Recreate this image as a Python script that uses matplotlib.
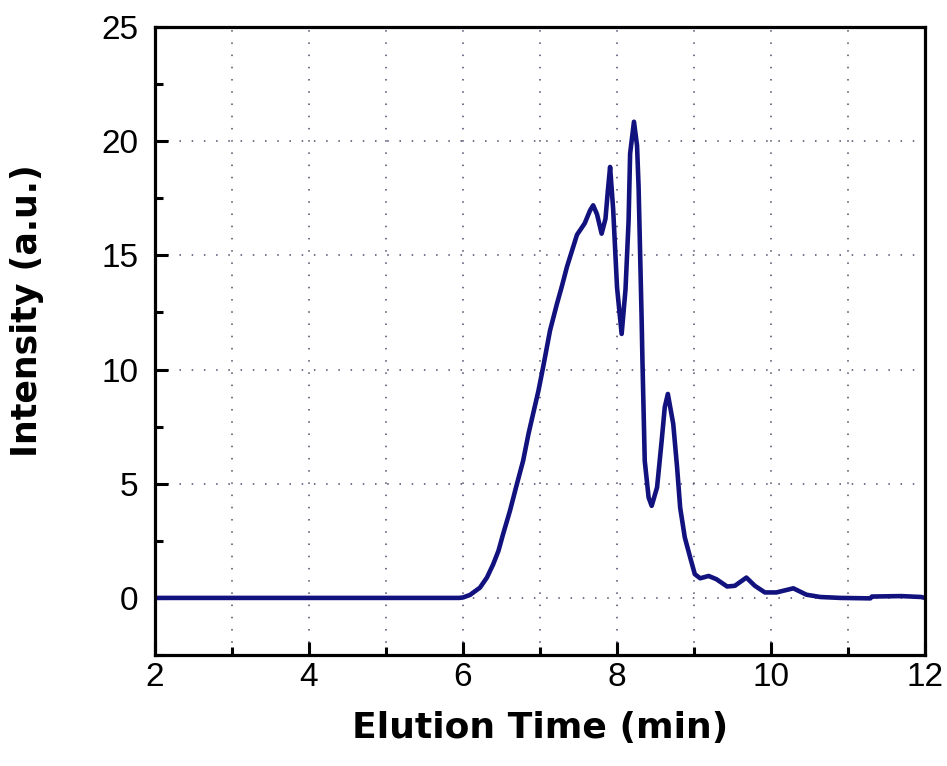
import matplotlib
matplotlib.use("Agg")
import matplotlib.pyplot as plt
from matplotlib.ticker import MultipleLocator

# elution trace
time_min = [2.0, 4.0, 5.5, 5.95, 6.0, 6.09, 6.22, 6.31, 6.39, 6.46, 6.52, 6.61, 6.70,
            6.78, 6.85, 6.91, 6.98, 7.04, 7.13, 7.22, 7.28, 7.35, 7.48, 7.58,
            7.65, 7.69, 7.74, 7.80, 7.85, 7.88, 7.91, 7.95, 8.00, 8.06, 8.11,
            8.15, 8.17, 8.22, 8.26, 8.28, 8.30, 8.32, 8.33, 8.36, 8.41, 8.45,
            8.52, 8.58, 8.62, 8.66, 8.73, 8.78, 8.82, 8.88, 8.95, 9.01, 9.08,
            9.19, 9.29, 9.43, 9.53, 9.68, 9.79, 9.92, 10.07, 10.29, 10.46, 10.64,
            10.90, 11.29, 11.31, 11.69, 11.95, 12.0]
intensity = [0.0, 0.0, 0.0, 0.0, 0.02, 0.13, 0.45, 0.89, 1.46, 2.06, 2.79, 3.82, 4.99,
             6.0, 7.18, 8.06, 9.08, 10.1, 11.71, 12.88, 13.6, 14.5, 15.9, 16.4,
             16.97, 17.19, 16.8, 15.95, 16.6, 17.8, 18.87, 17.0, 13.6, 11.56, 13.5,
             16.5, 19.46, 20.85, 19.8, 18.0, 15.07, 12.15, 10.4, 6.0, 4.4, 4.03,
             4.84, 6.89, 8.35, 8.93, 7.62, 5.72, 3.95, 2.65, 1.77, 1.04, 0.86,
             0.96, 0.82, 0.5, 0.53, 0.89, 0.53, 0.24, 0.24, 0.42, 0.14, 0.04,
             0.0, -0.02, 0.06, 0.08, 0.04, 0.0]

plt.rcParams['font.family'] = ['Liberation Sans', 'DejaVu Sans']

fig = plt.figure(figsize=(9.47, 7.66), dpi=100)
ax = fig.add_axes([0.1637, 0.1449, 0.8131, 0.8199])

ax.plot(time_min, intensity, color='#12127e', lw=3.3, solid_joinstyle='round')

ax.set_xlim(2, 12)
ax.set_ylim(-2.5, 25)
ax.xaxis.set_major_locator(MultipleLocator(2))
ax.xaxis.set_minor_locator(MultipleLocator(1))
ax.yaxis.set_major_locator(MultipleLocator(5))
ax.yaxis.set_minor_locator(MultipleLocator(2.5))

grid_style = dict(ls=(0, (1, 7)), color='#4a4a6a', lw=1.1)
ax.grid(True, which='both', axis='x', **grid_style)
ax.grid(True, which='major', axis='y', **grid_style)

ax.tick_params(which='both', direction='in', top=False, right=False, width=2.2,
               labelsize=24)
ax.tick_params(axis='x', pad=5)
ax.tick_params(axis='y', pad=12)
ax.tick_params(which='major', length=9.5)
ax.tick_params(which='minor', length=5.5)
for s in ax.spines.values():
    s.set_linewidth(2.3)

ax.set_xlabel('Elution Time (min)', labelpad=13, family='DejaVu Sans',
              fontsize=26, fontweight='bold')
ax.set_ylabel('Intensity (a.u.)', family='DejaVu Sans', fontsize=25,
              fontweight='bold')
ax.yaxis.set_label_coords(-0.144, 0.549)

fig.savefig('out.png', dpi=100)
